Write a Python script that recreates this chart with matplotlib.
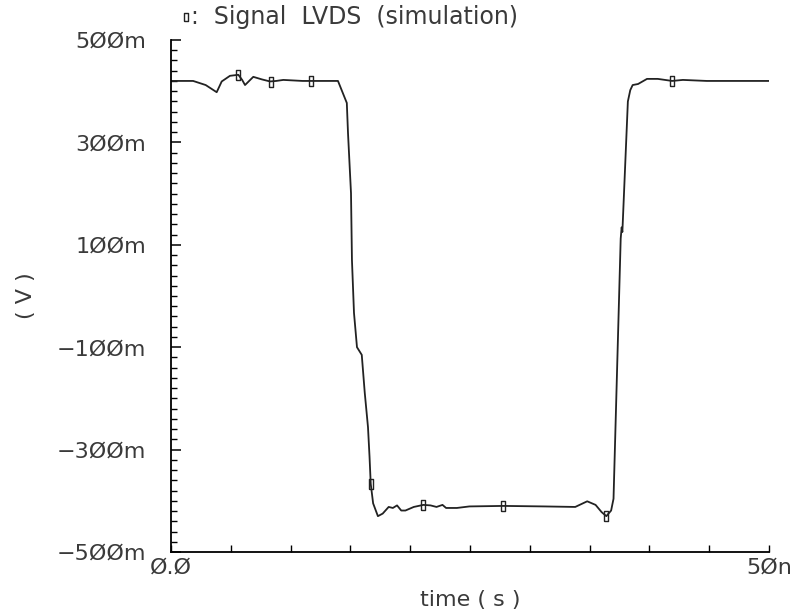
import numpy as np
import matplotlib
matplotlib.use("Agg")
import matplotlib.pyplot as plt
from matplotlib.lines import Line2D
from matplotlib.ticker import MultipleLocator, FixedLocator, FixedFormatter

# waveform: time in ns, voltage in mV
time_ns = [0.0, 1.85, 2.9, 3.82, 4.24, 4.93, 5.63, 5.95, 6.19, 6.88, 7.6, 8.28,
           8.8, 9.39, 10.2, 11.0, 12.5, 13.96, 14.7, 14.8, 15.05, 15.13, 15.3,
           15.55, 15.95, 16.2, 16.47, 16.6, 16.7, 16.9, 17.3, 17.7, 18.2, 18.55,
           18.9, 19.25, 19.6, 20.3, 21.1, 21.7, 22.2, 22.7, 23.0, 23.9, 24.95,
           27.8, 31.2, 33.8, 34.8, 35.5, 36.0, 36.4, 36.8, 37.0, 37.6, 37.68,
           37.74, 38.2, 38.4, 38.6, 39.05, 39.8, 40.7, 41.9, 42.8, 44.8, 50.0]
volt_mv = [420, 420, 412, 398, 419, 430, 432, 422, 412, 428, 423, 419,
           420, 422, 421, 420, 420, 420, 377, 318, 201, 70, -33,
           -100, -115, -189, -256, -314, -367, -405, -430, -425, -412, -414,
           -409, -419, -419, -412, -408, -409, -412, -408, -414, -414, -411,
           -410, -411, -412, -401, -408, -422, -430, -419, -396, 112, 134,
           125, 380, 402, 412, 414, 424, 424, 420, 422, 420, 420]

# marker positions on the trace
marker_t = [5.63, 8.35, 11.7, 16.7, 21.1, 27.8, 36.4, 41.9]
marker_v = [432, 418, 420, -367, -408, -410, -430, 420]

y_ticks = [500, 300, 100, -100, -300, -500]
y_labels = ["5ØØm", "3ØØm", "1ØØm", "−1ØØm", "−3ØØm", "−5ØØm"]
x_labels = {0: "Ø.Ø", 50: "5Øn"}

plt.rcParams["font.family"] = ["DejaVu Sans"]
FS = 16
INK = "#222222"
TXT = "#3a3a3a"

fig = plt.figure(figsize=(8.0, 6.16), dpi=100)
ax = fig.add_axes([0.21375, 0.1039, 0.7475, 0.8312])

box = [(-0.2, -0.5), (0.2, -0.5), (0.2, 0.5), (-0.2, 0.5), (-0.2, -0.5)]

ax.plot(time_ns, volt_mv, color=INK, lw=1.3)
ax.plot(marker_t, marker_v, ls="none", marker=box, ms=7,
        mfc="none", mec=INK, mew=1.0)

ax.set_xlim(0, 50)
ax.set_ylim(-500, 500)

for s in ("top", "right"):
    ax.spines[s].set_visible(False)
for s in ("left", "bottom"):
    ax.spines[s].set_linewidth(1.3)
    ax.spines[s].set_color("black")

ax.yaxis.set_major_locator(FixedLocator(y_ticks))
ax.yaxis.set_major_formatter(FixedFormatter(y_labels))
ax.yaxis.set_minor_locator(MultipleLocator(20))
xt = list(range(0, 51, 5))
ax.xaxis.set_major_locator(FixedLocator(xt))
ax.xaxis.set_major_formatter(FixedFormatter([x_labels.get(t, "") for t in xt]))

ax.tick_params(axis="y", which="major", direction="in", length=7, width=1.1,
               labelsize=FS, pad=18, colors="black", labelcolor=TXT)
ax.tick_params(axis="y", which="minor", direction="in", length=4, width=1.0)
ax.tick_params(axis="x", which="major", direction="in", length=5, width=1.0,
               labelsize=FS, pad=4, labelcolor=TXT)

ax.set_xlabel("time ( s )", fontsize=FS, color=TXT, labelpad=9)
ax.set_ylabel("( V )", fontsize=FS, color=TXT)
ax.yaxis.set_label_coords(-0.225, 0.5)

# title with the trace marker
fig.add_artist(Line2D([186 / 800], [1 - 17 / 616], transform=fig.transFigure,
                      ls="none", marker=box, ms=6, mfc="none", mec=INK, mew=1.0))
fig.text(191 / 800, 1 - 17 / 616, ":  Signal  LVDS  (simulation)", fontsize=17,
         color=TXT, va="center", ha="left")

fig.savefig("out.png", dpi=100)
